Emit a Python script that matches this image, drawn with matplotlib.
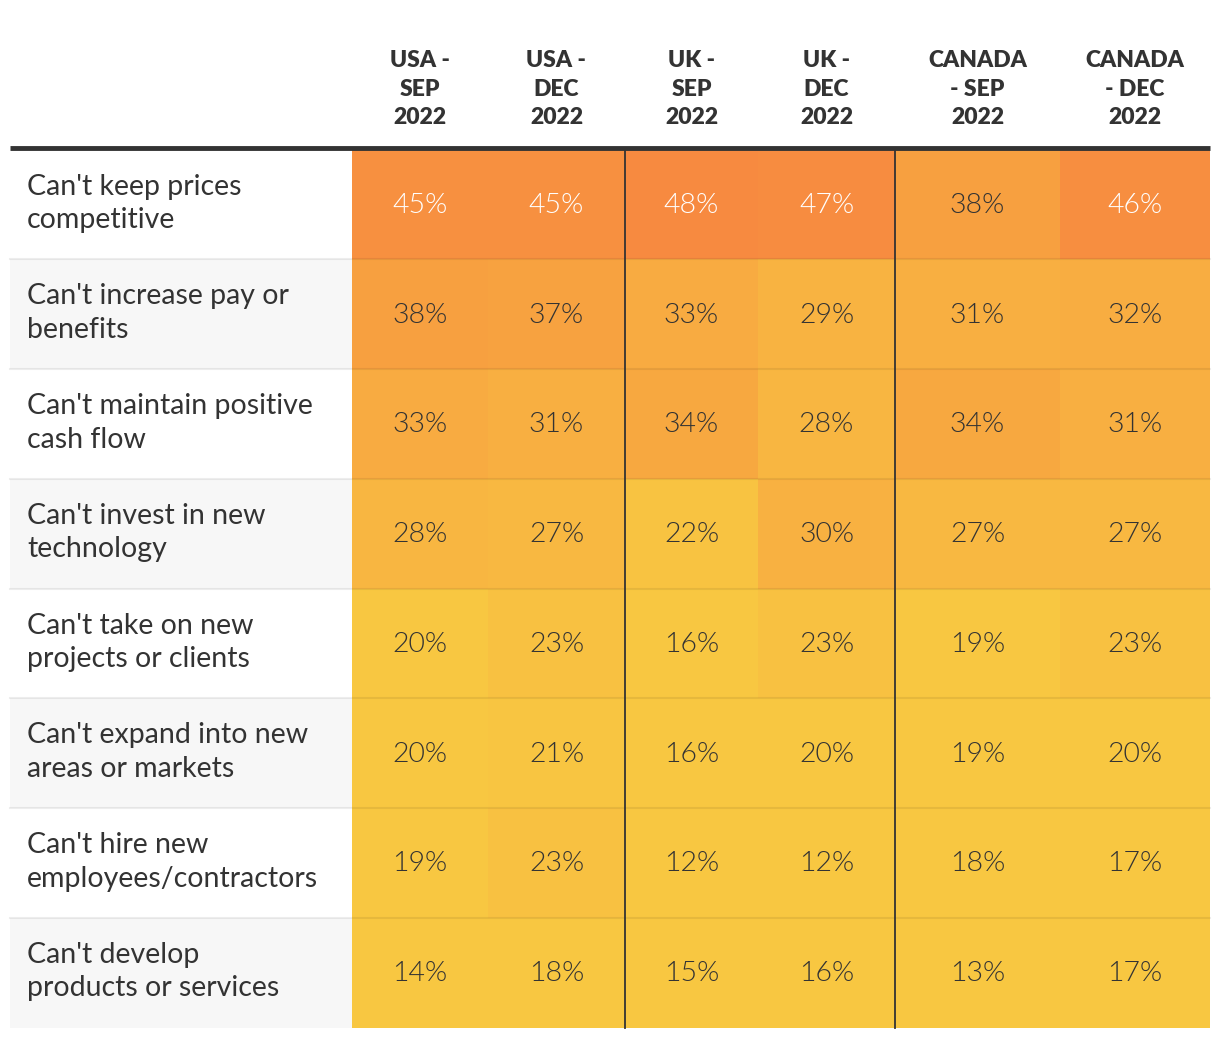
import matplotlib
matplotlib.use('Agg')
import matplotlib.pyplot as plt
import numpy as np
from matplotlib.colors import LinearSegmentedColormap

plt.rcParams['font.family'] = ['Lato', 'DejaVu Sans']

columns = ['USA -\nSEP\n2022', 'USA -\nDEC\n2022', 'UK -\nSEP\n2022',
           'UK -\nDEC\n2022', 'CANADA\n- SEP\n2022', 'CANADA\n- DEC\n2022']
rows = ["Can't keep prices\ncompetitive",
        "Can't increase pay or\nbenefits",
        "Can't maintain positive\ncash flow",
        "Can't invest in new\ntechnology",
        "Can't take on new\nprojects or clients",
        "Can't expand into new\nareas or markets",
        "Can't hire new\nemployees/contractors",
        "Can't develop\nproducts or services"]
values = np.array([
    [45, 45, 48, 47, 38, 46],
    [38, 37, 33, 29, 31, 32],
    [33, 31, 34, 28, 34, 31],
    [28, 27, 22, 30, 27, 27],
    [20, 23, 16, 23, 19, 23],
    [20, 21, 16, 20, 19, 20],
    [19, 23, 12, 12, 18, 17],
    [14, 18, 15, 16, 13, 17],
])

# layout in pixels
W, H = 1220, 1038
x_edges = np.array([352, 488, 625, 758, 895, 1060, 1210])
top = 149.5
row_h = 109.75
y_edges = top + row_h * np.arange(len(rows) + 1)

cmap = LinearSegmentedColormap.from_list('yo', ['#F8C741', '#F78A40'])

fig = plt.figure(figsize=(W / 100, H / 100), dpi=100)
ax = fig.add_axes([0, 0, 1, 1])
ax.set_xlim(0, W)
ax.set_ylim(H, 0)
ax.axis('off')

# label column backgrounds
for i in range(len(rows)):
    if i % 2 == 1:
        ax.fill_between([10, x_edges[0]], y_edges[i], y_edges[i + 1], color='#f7f7f7', lw=0)

ax.pcolormesh(x_edges, y_edges, values, cmap=cmap, vmin=20, vmax=48, shading='flat')

# row separators
for y in y_edges[1:-1]:
    ax.plot([10, x_edges[-1]], [y, y], color='black', alpha=0.07, lw=1.5)

# header line and group separators
ax.plot([10, x_edges[-1]], [148, 148], color='#333333', lw=3.5, solid_capstyle='butt')
for x in [x_edges[2], x_edges[4]]:
    ax.plot([x, x], [top, y_edges[-1]], color='#333333', lw=1.3)

xc = (x_edges[:-1] + x_edges[1:]) / 2
yc = (y_edges[:-1] + y_edges[1:]) / 2

for j, c in enumerate(columns):
    ax.text(xc[j], 89, c, ha='center', va='center', fontsize=16.5,
            fontweight='heavy', color='#333333', linespacing=1.42)

for i, r in enumerate(rows):
    ax.text(27, yc[i] - 1, r, ha='left', va='center', fontsize=20.5,
            color='#333333', linespacing=1.36)
    for j in range(len(columns)):
        v = values[i, j]
        col = 'white' if v >= 45 else '#333333'
        ax.text(xc[j], yc[i] + 1, f'{v}%', ha='center', va='center',
                fontsize=20.5, color=col, fontweight=300)

fig.savefig('out.png', dpi=100)
